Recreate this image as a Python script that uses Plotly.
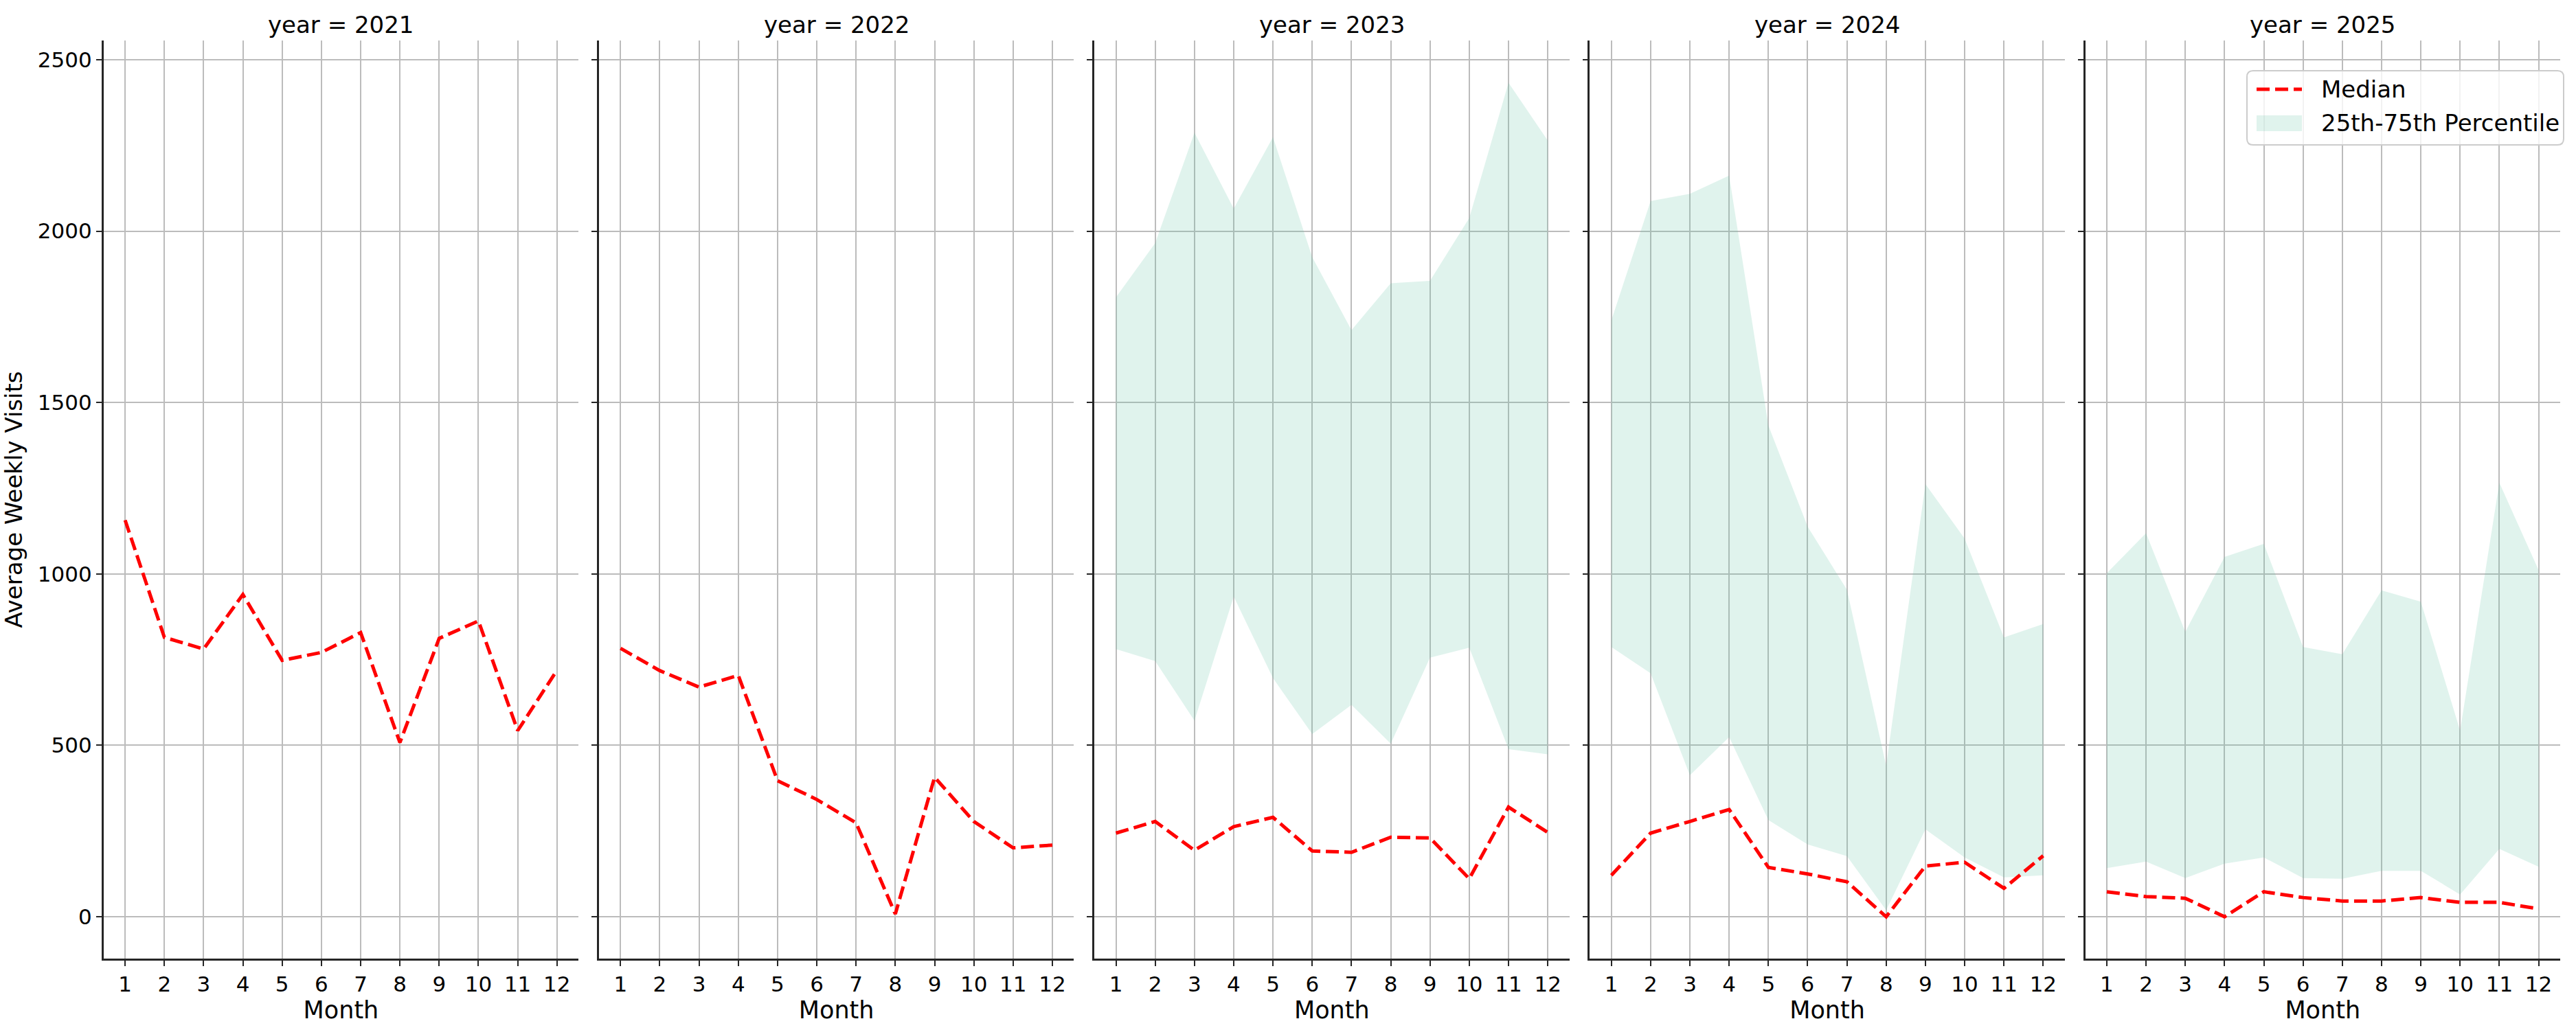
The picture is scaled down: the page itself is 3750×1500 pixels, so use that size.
import plotly.graph_objects as go

W, H = 3750, 1500

months = [1, 2, 3, 4, 5, 6, 7, 8, 9, 10, 11, 12]
years = [2021, 2022, 2023, 2024, 2025]

median_2021 = [1157, 815, 781, 940, 748, 771, 829, 508, 812, 863, 543, 719]
median_2022 = [783, 718, 670, 704, 397, 342, 274, 8, 407, 278, 201, 209]
median_2023 = [244, 278, 194, 263, 290, 192, 188, 232, 230, 111, 320, 246]
median_2024 = [121, 244, 278, 313, 144, 125, 102, 0, 148, 159, 83, 178]
median_2025 = [73, 59, 54, 0, 73, 56, 46, 46, 56, 42, 42, 23]

p25_2023 = [781, 746, 572, 934, 696, 533, 618, 505, 756, 785, 489, 474]
p75_2023 = [1807, 1965, 2287, 2066, 2274, 1924, 1711, 1848, 1855, 2038, 2433, 2264]
p25_2024 = [787, 710, 413, 524, 282, 211, 177, 19, 255, 173, 115, 121]
p75_2024 = [1740, 2088, 2109, 2162, 1433, 1138, 954, 441, 1262, 1103, 815, 854]
p25_2025 = [142, 161, 113, 155, 173, 113, 111, 134, 134, 65, 198, 146]
p75_2025 = [1002, 1119, 831, 1050, 1088, 787, 766, 952, 919, 543, 1266, 1011]

y_ticks = [0, 500, 1000, 1500, 2000, 2500]
legend_labels = ["Median", "25th-75th Percentile"]

medians = {2021: median_2021, 2022: median_2022, 2023: median_2023,
           2024: median_2024, 2025: median_2025}
p25 = {2023: p25_2023, 2024: p25_2024, 2025: p25_2025}
p75 = {2023: p75_2023, 2024: p75_2024, 2025: p75_2025}

FONT = "DejaVu Sans"
AX = "#262626"
GRID = "#bcbcbc"
FILL = "rgba(102,194,165,0.2)"
DASH = "19px,8px"

fig = go.Figure()

left0, step, pw = 150.7, 721.2, 691.5
y_bot, y_top = 1396, 59


def px(x):
    return x / W


def py(y):
    return 1 - y / H


layout_axes = {}
annotations = []
for i, yr in enumerate(years):
    k = "" if i == 0 else str(i + 1)
    xa, ya = "x" + k, "y" + k
    if yr in p25:
        fig.add_trace(go.Scatter(x=months, y=p25[yr], mode="lines",
                                 line=dict(width=0, color=FILL),
                                 showlegend=False, hoverinfo="skip",
                                 xaxis=xa, yaxis=ya))
        fig.add_trace(go.Scatter(x=months, y=p75[yr], mode="lines",
                                 line=dict(width=0, color=FILL),
                                 fill="tonexty", fillcolor=FILL,
                                 name=legend_labels[1], showlegend=False,
                                 xaxis=xa, yaxis=ya))
    fig.add_trace(go.Scatter(x=months, y=medians[yr], mode="lines",
                             line=dict(color="red", width=5, dash=DASH),
                             name=legend_labels[0], showlegend=False,
                             xaxis=xa, yaxis=ya))

    x0 = px(left0 + i * step)
    x1 = px(left0 + i * step + pw)
    common = dict(showline=True, linecolor=AX, linewidth=2.6,
                  ticks="outside", ticklen=8, tickwidth=2.4, tickcolor=AX,
                  showgrid=True, gridcolor=GRID, gridwidth=2,
                  zeroline=False, mirror=False,
                  tickfont=dict(family=FONT, size=31, color="black"))
    layout_axes["xaxis" + k] = dict(
        common, domain=[x0, x1], anchor=ya, range=[0.45, 12.55],
        tickmode="array", tickvals=months, ticktext=[str(m) for m in months],
        title=dict(text="Month", font=dict(family=FONT, size=35, color="black"),
                   standoff=6))
    layout_axes["yaxis" + k] = dict(
        common, domain=[py(y_bot), py(y_top)], anchor=xa,
        range=[-122, 2556], tickmode="array", tickvals=y_ticks,
        ticktext=[str(v) for v in y_ticks], showticklabels=(i == 0),
        title=dict(text="Average Weekly Visits" if i == 0 else "",
                   font=dict(family=FONT, size=34, color="black"), standoff=12))
    annotations.append(dict(text=f"year = {yr}", xref="paper", yref="paper",
                            x=(x0 + x1) / 2, y=py(36), xanchor="center",
                            yanchor="middle", showarrow=False,
                            font=dict(family=FONT, size=34, color="black")))

# legend drawn as a rounded box (matplotlib style)
bx0, bx1, by0, by1, r = 3271, 3732, 103, 211, 9
path = (f"M {px(bx0 + r)},{py(by0)} L {px(bx1 - r)},{py(by0)} "
        f"Q {px(bx1)},{py(by0)} {px(bx1)},{py(by0 + r)} "
        f"L {px(bx1)},{py(by1 - r)} Q {px(bx1)},{py(by1)} {px(bx1 - r)},{py(by1)} "
        f"L {px(bx0 + r)},{py(by1)} Q {px(bx0)},{py(by1)} {px(bx0)},{py(by1 - r)} "
        f"L {px(bx0)},{py(by0 + r)} Q {px(bx0)},{py(by0)} {px(bx0 + r)},{py(by0)} Z")
shapes = [
    dict(type="path", xref="paper", yref="paper", path=path,
         fillcolor="rgba(255,255,255,0.8)", line=dict(color="#cccccc", width=2),
         layer="above"),
    dict(type="line", xref="paper", yref="paper",
         x0=px(3285), x1=px(3351), y0=py(130), y1=py(130),
         line=dict(color="red", width=5, dash=DASH), layer="above"),
    dict(type="rect", xref="paper", yref="paper",
         x0=px(3285), x1=px(3351), y0=py(168), y1=py(191),
         fillcolor=FILL, line=dict(width=0), layer="above"),
]
for lab, yy in zip(legend_labels, [130, 179]):
    annotations.append(dict(text=lab, xref="paper", yref="paper",
                            x=px(3377), y=py(yy), xanchor="left", yanchor="middle",
                            showarrow=False,
                            font=dict(family=FONT, size=34, color="black")))

fig.update_layout(
    width=W, height=H,
    margin=dict(l=0, r=0, t=0, b=0),
    paper_bgcolor="white", plot_bgcolor="white",
    font=dict(family=FONT, size=31, color="black"),
    showlegend=False,
    annotations=annotations,
    shapes=shapes,
    **layout_axes,
)

fig.write_html("out.html")
